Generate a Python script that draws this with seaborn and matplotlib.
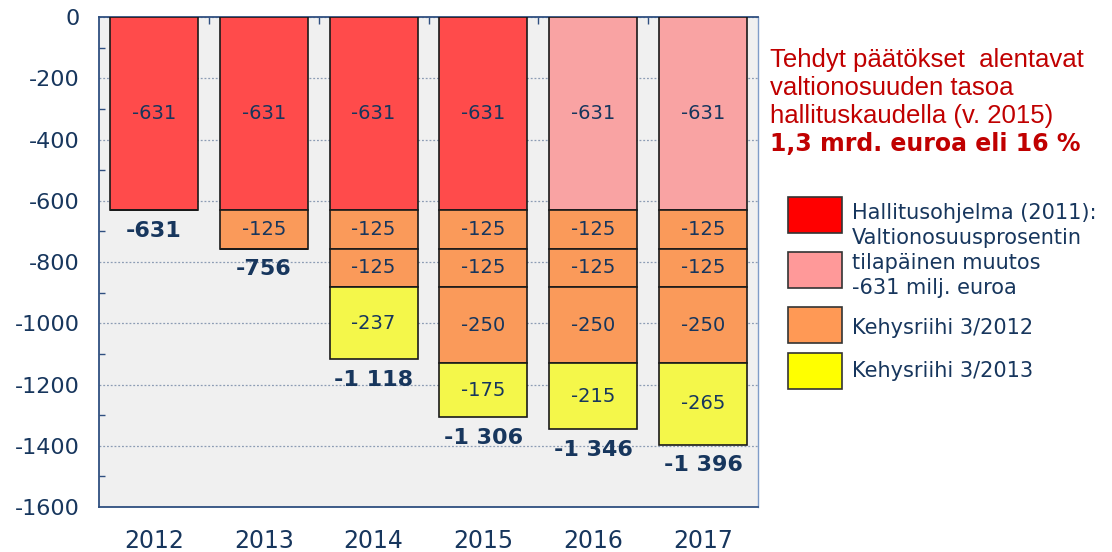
import numpy as np
import matplotlib.pyplot as plt
import seaborn as sns
from matplotlib.patches import Rectangle
from matplotlib.ticker import MultipleLocator, FixedLocator

# Data (milj. euroa)
vuodet = ["2012", "2013", "2014", "2015", "2016", "2017"]
hallitusohjelma = [-631, -631, -631, -631, -631, -631]
kehys2012_a = [0, -125, -125, -125, -125, -125]
kehys2012_b = [0, 0, -125, -125, -125, -125]
kehys2012_c = [0, 0, 0, -250, -250, -250]
kehys2013 = [0, 0, -237, -175, -215, -265]

# Colours
navy = "#17365D"
punainen = "#FF4B4B"
vaaleanpunainen = "#F9A3A3"
oranssi = "#FA9A5A"
keltainen = "#F4F74A"
pohjan_varit = [punainen] * 4 + [vaaleanpunainen] * 2

sns.set_style("white")
plt.rcParams["font.family"] = ["DejaVu Sans"]
plt.rcParams["axes.unicode_minus"] = False

fig = plt.figure(figsize=(11.12, 5.52), dpi=100)
ax = fig.add_axes([0.089, 0.0815, 0.5927, 0.8877])
ax.set_facecolor("#F0F0F0")

bar_kw = dict(width=0.8, edgecolor="#1A1A1A", linewidth=1.2, saturation=1,
              errorbar=None, ax=ax, zorder=3)

# base layer
sns.barplot(x=vuodet, y=hallitusohjelma, hue=vuodet, palette=pohjan_varit,
            legend=False, **bar_kw)

kerrokset = [(kehys2012_a, oranssi), (kehys2012_b, oranssi),
             (kehys2012_c, oranssi), (kehys2013, keltainen)]
pohja = np.array(hallitusohjelma, dtype=float)
for i, v in enumerate(hallitusohjelma):
    ax.text(i, v / 2, f"{v}", ha="center", va="center", fontsize=14,
            color=navy, zorder=5)
for arvot, vari in kerrokset:
    arvot = np.array(arvot, dtype=float)
    sns.barplot(x=vuodet, y=arvot, color=vari, bottom=pohja, **bar_kw)
    for i, v in enumerate(arvot):
        if v != 0:
            ax.text(i, pohja[i] + v / 2, f"{int(v)}", ha="center", va="center",
                    fontsize=14, color=navy, zorder=5)
    pohja = pohja + arvot

# totals under the bars
for i, t in enumerate(pohja):
    ax.annotate(f"{int(t):,}".replace(",", " "), (i, t), xytext=(0, -15),
                textcoords="offset points", ha="center", va="center",
                fontsize=16, fontweight="bold", color=navy, zorder=5)

# axes styling
ax.set_ylim(-1600, 0)
ax.set_xlim(-0.5, 5.5)
ax.set_xlabel("")
ax.set_ylabel("")
ax.yaxis.set_major_locator(MultipleLocator(200))
ax.yaxis.set_minor_locator(MultipleLocator(100))
ax.yaxis.grid(True, which="major", linestyle=(0, (1.5, 1.5)), color="#8C9CB4",
              linewidth=0.9)
ax.set_axisbelow(True)
ax.tick_params(axis="y", which="major", direction="out", length=5, width=1.2,
               color="#2F4F80", labelsize=16, labelcolor=navy, pad=9)
ax.tick_params(axis="y", which="minor", direction="in", length=4, width=1,
               color="#2F4F80", left=True)
ax.xaxis.set_minor_locator(FixedLocator(np.arange(0.5, 5, 1)))
ax.tick_params(axis="x", which="major", length=0, labelsize=17,
               labelcolor=navy, pad=16)
ax.tick_params(axis="x", which="minor", top=True, bottom=False,
               direction="in", length=5, width=1, color="#2F4F80")
for s in ["left", "bottom", "top"]:
    ax.spines[s].set_color("#2F4F80")
    ax.spines[s].set_linewidth(1.3)
ax.spines["right"].set_color("#7F9CC8")
ax.spines["right"].set_linewidth(1.0)

# annotation text
punainen_teksti = "#C00000"
rivit = ["Tehdyt päätökset  alentavat", "valtionosuuden tasoa",
         "hallituskaudella (v. 2015)"]
for k, rivi in enumerate(rivit):
    fig.text(770 / 1112, 1 - (60 + 28 * k) / 552, rivi, fontsize=18.5,
             family="Liberation Sans", color=punainen_teksti, va="center")
fig.text(770 / 1112, 1 - 144 / 552, "1,3 mrd. euroa eli 16 %", fontsize=17,
         fontweight="bold", color=punainen_teksti, va="center")

# legend
selite_laatikot = [("#FF0000", 197), ("#FF9999", 252), ("#FF9955", 307),
                   ("#FFFF00", 353)]
for vari, y0 in selite_laatikot:
    fig.patches.append(Rectangle((788 / 1112, 1 - (y0 + 36) / 552), 54 / 1112,
                                 36 / 552, transform=fig.transFigure,
                                 facecolor=vari, edgecolor="#333333",
                                 linewidth=1.2))
selite_rivit = [("Hallitusohjelma (2011):", 213),
                ("Valtionosuusprosentin", 238),
                ("tilapäinen muutos", 263),
                ("-631 milj. euroa", 288),
                ("Kehysriihi 3/2012", 328),
                ("Kehysriihi 3/2013", 371)]
for teksti, yc in selite_rivit:
    fig.text(852 / 1112, 1 - yc / 552, teksti, fontsize=15, color=navy,
             va="center")

fig.savefig("out.png", dpi=100)
